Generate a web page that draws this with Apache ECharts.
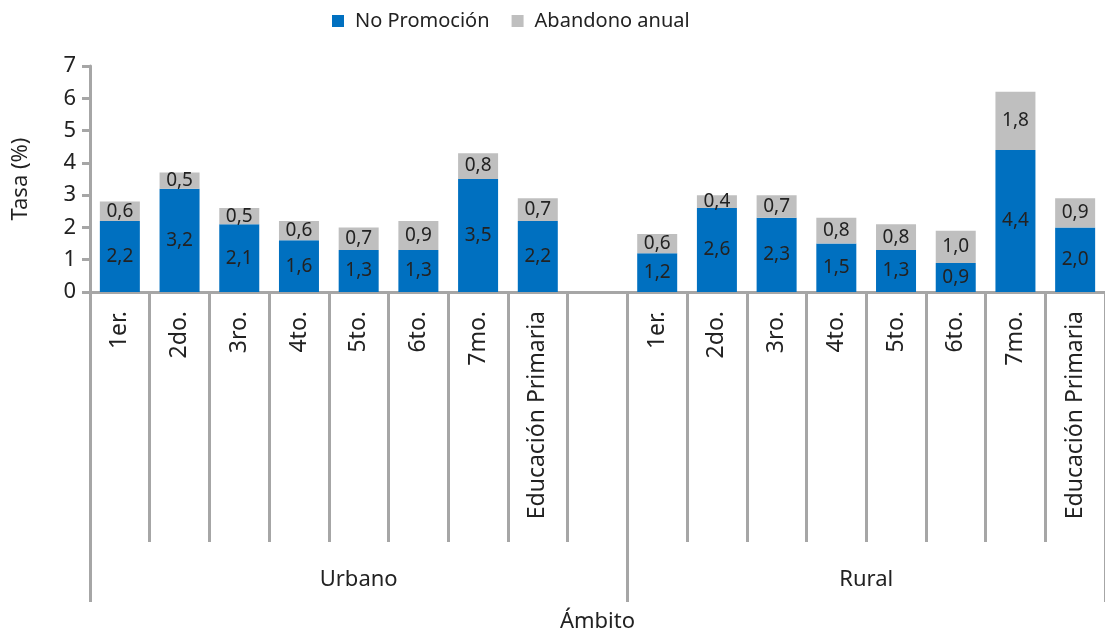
<!DOCTYPE html>
<html>
<head>
<meta charset="utf-8">
<script src="https://cdn.jsdelivr.net/npm/echarts@6/dist/echarts.min.js"></script>
<style>
  html, body { margin: 0; padding: 0; background: #fff; }
  #chart { width: 1105px; height: 634px; }
</style>
</head>
<body>
<div id="chart"></div>
<script>
// datos
const grades = ['1er.', '2do.', '3ro.', '4to.', '5to.', '6to.', '7mo.', 'Educación Primaria'];
const groups = ['Urbano', 'Rural'];
const urbanNoPromocion = [2.2, 3.2, 2.1, 1.6, 1.3, 1.3, 3.5, 2.2];
const urbanAbandono = [0.6, 0.5, 0.5, 0.6, 0.7, 0.9, 0.8, 0.7];
const ruralNoPromocion = [1.2, 2.6, 2.3, 1.5, 1.3, 0.9, 4.4, 2.0];
const ruralAbandono = [0.6, 0.4, 0.7, 0.8, 0.8, 1.0, 1.8, 0.9];
const yTicks = [0, 1, 2, 3, 4, 5, 6, 7];

// urbano + hueco + rural
const categories = grades.concat(['']).concat(grades);
const noPromocion = urbanNoPromocion.concat([null]).concat(ruralNoPromocion);
const abandono = urbanAbandono.concat([null]).concat(ruralAbandono);

const FONT = 'Noto Sans';
const AXIS_GRAY = '#a6a6a6';
const TEXT = '#222';
const fmt = p => (p.value == null ? '' : p.value.toFixed(1).replace('.', ','));

const chart = echarts.init(document.getElementById('chart'));

const option = {
  animation: false,
  textStyle: { fontFamily: FONT },
  legend: {
    top: 6,
    left: 327,
    icon: 'rect',
    itemWidth: 12,
    itemHeight: 12,
    itemGap: 22,
    textStyle: { fontSize: 20, color: TEXT, fontFamily: FONT, padding: [0, 0, 0, 6] },
    data: ['No Promoción', 'Abandono anual']
  },
  grid: {
    left: 90,
    top: 66,
    width: 1020,
    height: 226,
    containLabel: false
  },
  xAxis: [{
    type: 'category',
    data: categories,
    boundaryGap: true,
    axisLine: { lineStyle: { color: AXIS_GRAY, width: 3 } },
    axisTick: {
      show: true,
      interval: 0,
      length: 250,
      lineStyle: { color: AXIS_GRAY, width: 3 }
    },
    axisLabel: {
      interval: 0,
      rotate: 90,
      margin: 19,
      fontSize: 23,
      color: TEXT,
      fontFamily: FONT
    }
  }, {
    type: 'value',
    min: 0,
    max: categories.length,
    position: 'bottom',
    name: 'Ámbito',
    nameLocation: 'middle',
    nameGap: 319,
    nameTextStyle: { fontSize: 22, color: TEXT, fontFamily: FONT },
    axisLine: { show: false },
    splitLine: { show: false },
    axisTick: {
      show: true,
      length: 310,
      customValues: [0, grades.length + 1, categories.length],
      lineStyle: { color: AXIS_GRAY, width: 3 }
    },
    axisLabel: {
      show: true,
      margin: 277,
      fontSize: 22,
      color: TEXT,
      fontFamily: FONT,
      customValues: [(grades.length + 1) / 2, grades.length + 1 + grades.length / 2],
      formatter: v => (v < grades.length + 1 ? groups[0] : groups[1])
    }
  }],
  yAxis: {
    type: 'value',
    min: yTicks[0],
    max: yTicks[yTicks.length - 1],
    interval: 1,
    name: 'Tasa (%)',
    nameLocation: 'middle',
    nameGap: 58,
    nameTextStyle: { fontSize: 22, color: TEXT, fontFamily: FONT },
    axisLine: { show: true, lineStyle: { color: AXIS_GRAY, width: 3 } },
    axisTick: { show: true, length: 8, lineStyle: { color: AXIS_GRAY, width: 3 } },
    splitLine: { show: false },
    axisLabel: { fontSize: 22, color: TEXT, margin: 14, fontFamily: FONT }
  },
  series: [{
    name: 'No Promoción',
    type: 'bar',
    stack: 'tasa',
    xAxisIndex: 0,
    data: noPromocion,
    barWidth: 40,
    itemStyle: { color: '#0070c0' },
    label: { show: true, position: 'inside', fontSize: 19, color: TEXT, fontFamily: FONT, formatter: fmt }
  }, {
    name: 'Abandono anual',
    type: 'bar',
    stack: 'tasa',
    xAxisIndex: 0,
    data: abandono,
    barWidth: 40,
    itemStyle: { color: '#bfbfbf' },
    label: { show: true, position: 'inside', fontSize: 19, color: TEXT, fontFamily: FONT, formatter: fmt }
  }]
};

chart.setOption(option);
</script>
</body>
</html>
